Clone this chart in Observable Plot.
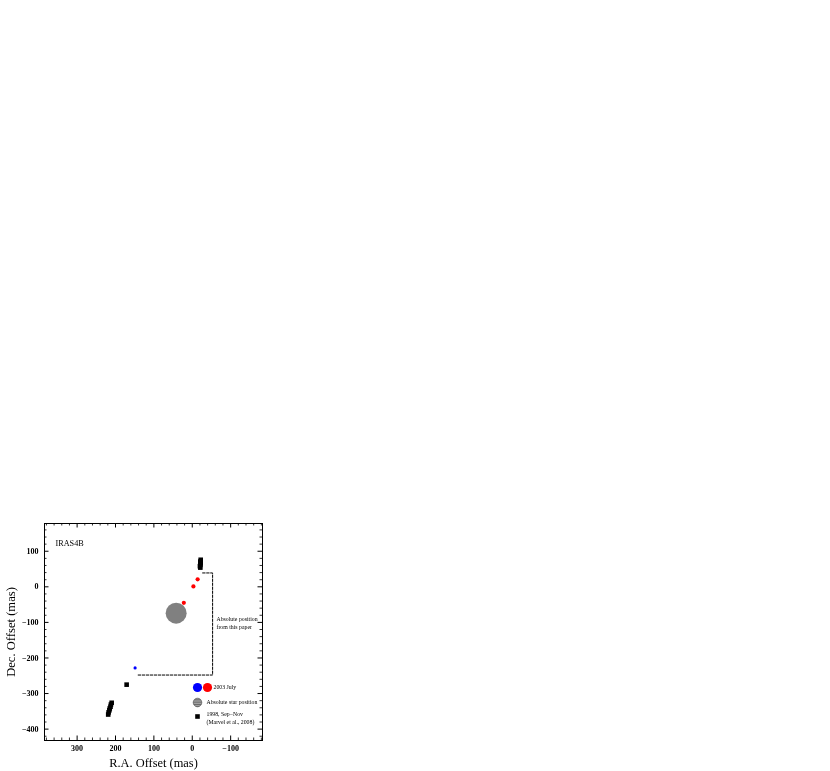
<!DOCTYPE html>
<html><head><meta charset="utf-8">
<script src="https://cdn.jsdelivr.net/npm/d3@7"></script>
<script src="https://cdn.jsdelivr.net/npm/@observablehq/plot@0.6"></script>
<style>html,body{margin:0;padding:0;background:#fff;overflow:hidden} svg g[aria-label*="text"], svg g[aria-label*="tick label"]{filter:grayscale(1)}</style>
</head><body><div id="chart"></div>
<script>
// ---- data (mas) ----
const title = "IRAS4B";
const xLabel = "R.A. Offset (mas)";
const yLabel = "Dec. Offset (mas)";
const xTickLabels = [300, 200, 100, 0, -100];
const yTickLabels = [100, 0, -100, -200, -300, -400];
// 2003 July maser spots
const blueRA = [149];
const blueDec = [-228];
const redRA = [-14, -3, 22];
const redDec = [21, 1, -45];
// Absolute star position
const starRA = [42];
const starDec = [-74];
// 1998 Sep-Nov (Marvel et al., 2008)
const marvelRA = [-22, -21, -22, -21, -20, -21, 171, 210, 212, 213, 215, 216, 218, 219];
const marvelDec = [76, 71, 66, 62, 58, 54, -275, -326, -331, -337, -342, -347, -353, -359];
// Absolute position box from this paper
const boxRA = [-27, -53, -53, 144];
const boxDec = [39, 39, -248, -248];
const boxNote = ["Absolute position", "from this paper"];
const legendLabels = ["2003 July", "Absolute star position", "1998, Sep\u2212Nov", "(Marvel et al., 2008)"];

const zip = (a, b) => a.map((v, i) => ({x: v, y: b[i]}));
const blue = zip(blueRA, blueDec);
const red = zip(redRA, redDec);
const star = zip(starRA, starDec);
const marvel = zip(marvelRA, marvelDec);
const box = zip(boxRA, boxDec);

// ---- layout ----
const W = 830, H = 771;
const mL = 44, mR = 568, mT = 523, mB = 31;
const fw = W - mL - mR, fh = H - mT - mB;
const xMinor = d3.range(-180, 381, 20).filter(v => v % 100 !== 0);
const yMinor = d3.range(-420, 178, 20).filter(v => v % 100 !== 0);
const xMajor = d3.range(-100, 301, 100);
const yMajor = d3.range(-400, 101, 100);
const fmt = d => d < 0 ? "\u2212" + (-d) : String(d);
const serif = "'Liberation Serif', 'Times New Roman', serif";
const minorLen = 2.5, majorLen = 4.5;
const small = 5.8;
const note = (t, anchor, dx, dy) => Plot.text([t], {frameAnchor: anchor, dx, dy, textAnchor: "start", lineAnchor: "middle", fontSize: small, fill: "black"});

const chart = Plot.plot({
  width: W, height: H,
  marginLeft: mL, marginRight: mR, marginTop: mT, marginBottom: mB,
  style: {fontFamily: serif, background: "white", color: "black"},
  x: {domain: [385, -183]},
  y: {domain: [-432, 178]},
  marks: [
    // inward ticks on all four sides
    Plot.ruleX(xMinor, {x: d => d, insetTop: fh - minorLen, stroke: "black", strokeWidth: 0.8}),
    Plot.ruleX(xMinor, {x: d => d, insetBottom: fh - minorLen, stroke: "black", strokeWidth: 0.8}),
    Plot.ruleX(xMajor, {x: d => d, insetTop: fh - majorLen, stroke: "black", strokeWidth: 1}),
    Plot.ruleX(xMajor, {x: d => d, insetBottom: fh - majorLen, stroke: "black", strokeWidth: 1}),
    Plot.ruleY(yMinor, {y: d => d, insetRight: fw - minorLen, stroke: "black", strokeWidth: 0.8}),
    Plot.ruleY(yMinor, {y: d => d, insetLeft: fw - minorLen, stroke: "black", strokeWidth: 0.8}),
    Plot.ruleY(yMajor, {y: d => d, insetRight: fw - majorLen, stroke: "black", strokeWidth: 1}),
    Plot.ruleY(yMajor, {y: d => d, insetLeft: fw - majorLen, stroke: "black", strokeWidth: 1}),
    Plot.axisX({anchor: "bottom", ticks: xTickLabels, tickSize: 0, tickPadding: 5, tickFormat: fmt,
      fontSize: 8, fontWeight: "bold", label: null, fill: "black"}),
    Plot.axisY({anchor: "left", ticks: yTickLabels, tickSize: 0, tickPadding: 6, tickFormat: fmt,
      fontSize: 8, fontWeight: "bold", label: null, fill: "black"}),
    Plot.frame({stroke: "black", strokeWidth: 1}),
    // dashed box
    Plot.line(box, {x: "x", y: "y", stroke: "black", strokeWidth: 1, strokeDasharray: "2.5,1.5"}),
    note(boxNote[0], "top-right", -46, 96),
    note(boxNote[1], "top-right", -46, 104),
    // data
    Plot.dot(star, {x: "x", y: "y", r: 10.5, fill: "#808080"}),
    Plot.dot(marvel, {x: "x", y: "y", symbol: "square", r: 2.6, fill: "black"}),
    Plot.dot(red, {x: "x", y: "y", r: 2.1, fill: "#ff0000"}),
    Plot.dot(blue, {x: "x", y: "y", r: 1.6, fill: "#0000ff"}),
    // title
    Plot.text([title], {frameAnchor: "top-left", dx: 11, dy: 20, textAnchor: "start", lineAnchor: "middle", fontSize: 8.2, fill: "black"}),
    // legend
    Plot.dot([0], {frameAnchor: "bottom-right", dx: -65, dy: -53, r: 4.6, fill: "#0000ff"}),
    Plot.dot([0], {frameAnchor: "bottom-right", dx: -55, dy: -53, r: 4.6, fill: "#ff0000"}),
    note(legendLabels[0], "bottom-right", -49, -53),
    Plot.dot([0], {frameAnchor: "bottom-right", dx: -65, dy: -38, r: 4.3, fill: "url(#hatch)", stroke: "#444", strokeWidth: 0.6}),
    note(legendLabels[1], "bottom-right", -56, -38),
    Plot.dot([0], {frameAnchor: "bottom-right", dx: -65, dy: -24, symbol: "square", r: 2.6, fill: "black"}),
    note(legendLabels[2], "bottom-right", -56, -26),
    note(legendLabels[3], "bottom-right", -56, -18),
    // axis titles
    Plot.text([xLabel], {frameAnchor: "bottom", dy: 23, textAnchor: "middle", lineAnchor: "middle", fontSize: 12.4, fill: "black"}),
    Plot.text([yLabel], {frameAnchor: "left", dx: -34, rotate: -90, textAnchor: "middle", lineAnchor: "middle", fontSize: 12.6, fill: "black"})
  ]
});

const defs = d3.select(chart).insert("defs", ":first-child");
const pat = defs.append("pattern").attr("id", "hatch").attr("patternUnits", "userSpaceOnUse")
  .attr("width", 4).attr("height", 2.2);
pat.append("rect").attr("width", 4).attr("height", 2.2).attr("fill", "#a0a0a0");
pat.append("rect").attr("width", 4).attr("height", 0.8).attr("fill", "#555");
document.getElementById("chart").appendChild(chart);
</script>
</body></html>
